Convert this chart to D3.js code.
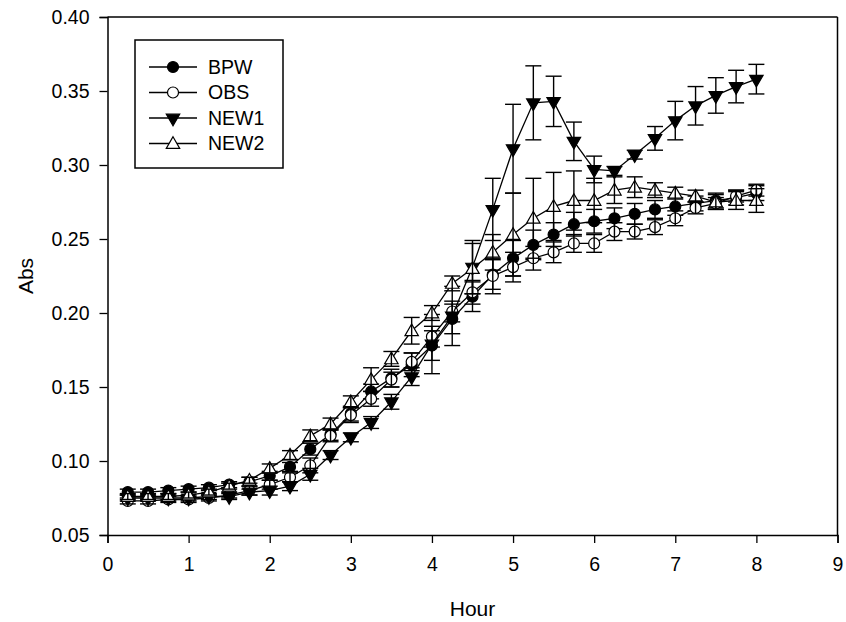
<!DOCTYPE html>
<html>
<head>
<meta charset="utf-8">
<script src="https://cdn.jsdelivr.net/npm/d3@7"></script>
<style>
  body { margin: 0; background: #fff; }
  svg { display: block; font-family: Arial, "Liberation Sans", sans-serif; }
</style>
</head>
<body>
<svg id="chart" width="846" height="622"></svg>
<script>
// sampling times (hours)
const hours = [0.25, 0.5, 0.75, 1, 1.25, 1.5, 1.75, 2, 2.25, 2.5, 2.75, 3, 3.25, 3.5, 3.75, 4,
    4.25, 4.5, 4.75, 5, 5.25, 5.5, 5.75, 6, 6.25, 6.5, 6.75, 7, 7.25, 7.5, 7.75, 8];

const bpw = [0.079, 0.079, 0.080, 0.081, 0.082, 0.084, 0.086, 0.090, 0.096, 0.108, 0.118, 0.132,
    0.147, 0.156, 0.165, 0.178, 0.196, 0.211, 0.226, 0.237, 0.246, 0.253, 0.260, 0.262,
    0.264, 0.267, 0.270, 0.272, 0.274, 0.276, 0.278, 0.281];
const bpwErr = [0.002, 0.002, 0.002, 0.002, 0.002, 0.002, 0.003, 0.003, 0.003, 0.004, 0.004, 0.005,
    0.005, 0.006, 0.008, 0.010, 0.010, 0.010, 0.010, 0.012, 0.010, 0.008, 0.008, 0.008,
    0.007, 0.007, 0.006, 0.006, 0.005, 0.005, 0.005, 0.005];

const obs = [0.073, 0.073, 0.074, 0.074, 0.075, 0.077, 0.080, 0.084, 0.089, 0.097, 0.117, 0.131,
    0.142, 0.155, 0.167, 0.184, 0.201, 0.214, 0.225, 0.231, 0.237, 0.241, 0.247, 0.247,
    0.255, 0.255, 0.258, 0.264, 0.271, 0.274, 0.279, 0.283];
const obsErr = [0.002, 0.002, 0.002, 0.002, 0.002, 0.002, 0.003, 0.003, 0.003, 0.005, 0.004, 0.005,
    0.005, 0.005, 0.006, 0.007, 0.007, 0.008, 0.012, 0.010, 0.008, 0.007, 0.006, 0.006,
    0.006, 0.005, 0.005, 0.005, 0.004, 0.004, 0.004, 0.004];

const new1 = [0.075, 0.075, 0.075, 0.075, 0.076, 0.076, 0.079, 0.080, 0.083, 0.091, 0.104, 0.116,
    0.126, 0.140, 0.157, 0.179, 0.198, 0.231, 0.270, 0.311, 0.342, 0.343, 0.316, 0.297,
    0.296, 0.307, 0.318, 0.330, 0.340, 0.347, 0.353, 0.358];
const new1Err = [0.002, 0.002, 0.002, 0.002, 0.002, 0.002, 0.002, 0.003, 0.003, 0.004, 0.003, 0.003,
    0.004, 0.005, 0.006, 0.020, 0.020, 0.018, 0.021, 0.030, 0.025, 0.017, 0.013, 0.009,
    0.003, 0.003, 0.008, 0.013, 0.013, 0.012, 0.011, 0.010];

const new2 = [0.076, 0.076, 0.076, 0.077, 0.079, 0.083, 0.087, 0.095, 0.104, 0.117, 0.125, 0.140,
    0.155, 0.169, 0.188, 0.200, 0.220, 0.230, 0.241, 0.253, 0.264, 0.272, 0.276, 0.276,
    0.283, 0.285, 0.283, 0.281, 0.279, 0.275, 0.276, 0.276];
const new2Err = [0.002, 0.002, 0.002, 0.002, 0.002, 0.002, 0.002, 0.003, 0.003, 0.004, 0.004, 0.004,
    0.008, 0.005, 0.009, 0.005, 0.005, 0.017, 0.012, 0.028, 0.027, 0.023, 0.020, 0.015,
    0.009, 0.007, 0.005, 0.004, 0.004, 0.005, 0.006, 0.008];

const seriesNames = ["BPW", "OBS", "NEW1", "NEW2"];
const xTicks = [0, 1, 2, 3, 4, 5, 6, 7, 8, 9];
const yTicks = [0.05, 0.10, 0.15, 0.20, 0.25, 0.30, 0.35, 0.40];

const series = [
    { name: seriesNames[0], values: bpw, errs: bpwErr, shape: "circle", fill: "#000" },
    { name: seriesNames[1], values: obs, errs: obsErr, shape: "circle", fill: "#fff" },
    { name: seriesNames[2], values: new1, errs: new1Err, shape: "down", fill: "#000" },
    { name: seriesNames[3], values: new2, errs: new2Err, shape: "up", fill: "#fff" }
];

// plot box
const plotLeft = 107.5, plotRight = 837.5, plotTop = 17, plotBottom = 535;

const svg = d3.select("#chart");

const x = d3.scaleLinear().domain([0, 9]).range([plotLeft, plotRight]);
const y = d3.scaleLinear().domain([0.05, 0.40]).range([plotBottom, plotTop]);

function symbolPath(shape) {
    if (shape === "circle") return d3.symbol().type(d3.symbolCircle).size(95)();
    return d3.symbol().type(d3.symbolTriangle).size(78)();
}
function symbolTransform(shape, px, py) {
    if (shape === "down") return `translate(${px},${py}) rotate(180)`;
    if (shape === "up") return `translate(${px},${py + 1})`;
    return `translate(${px},${py})`;
}

// axes
const xAxis = svg.append("g")
    .attr("transform", `translate(0,${plotBottom})`)
    .call(d3.axisBottom(x).tickValues(xTicks).tickSizeOuter(0).tickSize(8).tickPadding(14));
const yAxis = svg.append("g")
    .attr("transform", `translate(${plotLeft},0)`)
    .call(d3.axisLeft(y).tickValues(yTicks).tickFormat(d3.format(".2f")).tickSizeOuter(0).tickSize(8).tickPadding(10));

[xAxis, yAxis].forEach(a => {
    a.selectAll("text").style("font-size", "19.5px").attr("fill", "#000");
    a.selectAll("line").attr("stroke", "#000").attr("stroke-width", 1.3);
    a.select(".domain").attr("stroke", "#000").attr("stroke-width", 1.5);
});

// top and right frame
svg.append("line")
    .attr("x1", x(0)).attr("x2", x(9)).attr("y1", y(0.40)).attr("y2", y(0.40))
    .attr("stroke", "#000").attr("stroke-width", 1.5);
svg.append("line")
    .attr("x1", x(9)).attr("x2", x(9)).attr("y1", y(0.40)).attr("y2", y(0.05))
    .attr("stroke", "#000").attr("stroke-width", 1.5);

// axis titles
svg.append("text")
    .attr("x", (plotLeft + plotRight) / 2).attr("y", 616)
    .attr("text-anchor", "middle")
    .style("font-size", "21px")
    .text("Hour");
svg.append("text")
    .attr("transform", `translate(33,${(plotTop + plotBottom) / 2}) rotate(-90)`)
    .attr("text-anchor", "middle")
    .style("font-size", "21px")
    .text("Abs");

const line = d3.line().x(d => x(d[0])).y(d => y(d[1]));

series.forEach(s => {
    const pts = hours.map((h, i) => [h, s.values[i], s.errs[i]]);
    const g = svg.append("g");

    g.append("path")
        .datum(pts)
        .attr("d", line)
        .attr("fill", "none")
        .attr("stroke", "#000")
        .attr("stroke-width", 1.3);

    g.selectAll(".marker")
        .data(pts)
        .enter().append("path")
        .attr("class", "marker")
        .attr("d", symbolPath(s.shape))
        .attr("transform", d => symbolTransform(s.shape, x(d[0]), y(d[1])))
        .attr("fill", s.fill)
        .attr("stroke", "#000")
        .attr("stroke-width", 1.2);

    // error bars
    const eb = g.selectAll(".err")
        .data(pts)
        .enter().append("g")
        .attr("class", "err")
        .attr("stroke", "#000")
        .attr("stroke-width", 1.4);
    eb.append("line")
        .attr("x1", d => x(d[0])).attr("x2", d => x(d[0]))
        .attr("y1", d => y(d[1] + d[2])).attr("y2", d => y(d[1] - d[2]));
    eb.append("line")
        .attr("x1", d => x(d[0]) - 8).attr("x2", d => x(d[0]) + 8)
        .attr("y1", d => y(d[1] + d[2])).attr("y2", d => y(d[1] + d[2]));
    eb.append("line")
        .attr("x1", d => x(d[0]) - 8).attr("x2", d => x(d[0]) + 8)
        .attr("y1", d => y(d[1] - d[2])).attr("y2", d => y(d[1] - d[2]));
});

// legend
const legend = svg.append("g");
legend.append("rect")
    .attr("x", 135).attr("y", 40)
    .attr("width", 148).attr("height", 128)
    .attr("fill", "#fff")
    .attr("stroke", "#000")
    .attr("stroke-width", 1.5);

series.forEach((s, i) => {
    const ly = 67 + i * 25.5;
    legend.append("line")
        .attr("x1", 149).attr("x2", 197).attr("y1", ly).attr("y2", ly)
        .attr("stroke", "#000").attr("stroke-width", 1.3);
    legend.append("path")
        .attr("d", symbolPath(s.shape))
        .attr("transform", symbolTransform(s.shape, 173, ly))
        .attr("fill", s.fill)
        .attr("stroke", "#000")
        .attr("stroke-width", 1.2);
    legend.append("text")
        .attr("x", 208).attr("y", ly)
        .attr("dy", "0.35em")
        .style("font-size", "19.5px")
        .text(s.name);
});
</script>
</body>
</html>
